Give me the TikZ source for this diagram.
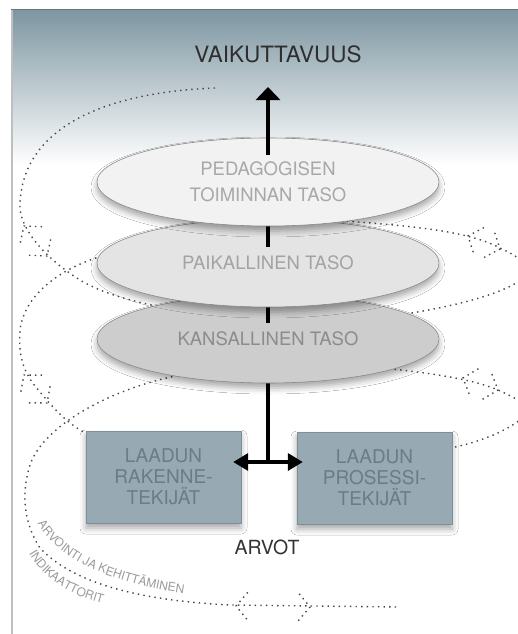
\documentclass[tikz,border=0pt]{standalone}
\usepackage{fontspec}
\setmainfont{TeX Gyre Heros}
\usetikzlibrary{calc,shapes.geometric,arrows.meta,shadows.blur,decorations.text}

\definecolor{slate}{RGB}{125,150,161}
\definecolor{slatemid}{RGB}{186,200,207}
\definecolor{boxfill}{RGB}{151,169,178}
\definecolor{boxline}{RGB}{126,142,151}
\definecolor{boxtext}{RGB}{108,124,134}
\definecolor{dotgray}{RGB}{70,70,70}
\definecolor{curvetext}{RGB}{155,155,155}

% two dotted open tips pointing away from each other
\newcommand{\chevrons}[2]{%
  \draw[spiral] ($#1!18pt!50:#2$) -- #1 -- ($#1!18pt!-50:#2$);
  \draw[spiral] ($#2!18pt!50:#1$) -- #2 -- ($#2!18pt!-50:#1$);}

\begin{document}
\begin{tikzpicture}[x=1pt,y=-1pt]
\tikzstyle{spiral}=[dotgray, line width=1.4pt, dash pattern=on 1.4pt off 4.2pt]
\tikzstyle{level}=[ellipse, draw=black!46, line width=0.6pt, minimum width=342pt, minimum height=88pt,
  inner sep=0pt, align=center, font=\fontsize{18.5}{26}\selectfont,
  blur shadow={shadow xshift=0pt, shadow yshift=-5pt, shadow blur radius=6pt, shadow opacity=35}]
\tikzstyle{factor}=[rectangle, draw=boxline, fill=boxfill, text=boxtext, minimum width=155pt, minimum height=92pt,
  align=center, font=\fontsize{19}{21}\selectfont,
  blur shadow={shadow xshift=0pt, shadow yshift=-5pt, shadow blur radius=6pt, shadow opacity=35}]
\tikzstyle{shaft}=[black, line width=3.5pt]

\useasboundingbox (0,0) rectangle (518,634);
\fill[white] (0,0) rectangle (518,634);
\shade[top color=slate, middle color=slatemid, bottom color=white] (12,10) rectangle (518,165);
\draw[black!25, line width=2pt] (12,10) -- (12,634);
\draw[black!55, line width=1pt] (11,10) -- (518,10);

% spiral, its back parts go under the levels
\begin{scope}
\clip (12,10) rectangle (518,634);
\draw[spiral] (215,88) .. controls (110,92) and (22,125) .. (20,205)
  .. controls (19,225) and (40,255) .. (80,280) .. controls (110,298) and (150,305) .. (200,315);
\draw[spiral] (118,252) .. controls (70,262) and (25,290) .. (20,330)
  .. controls (18,360) and (25,375) .. (40,392) .. controls (55,410) and (70,428) .. (100,440);
\draw[spiral] (200,372) .. controls (130,380) and (45,420) .. (30,465)
  .. controls (22,490) and (22,520) .. (40,548) .. controls (70,580) and (130,600) .. (230,605) -- (398,607);
\draw[spiral] (330,220) .. controls (420,226) and (470,232) .. (500,248)
  .. controls (530,262) and (535,272) .. (518,282) .. controls (495,296) and (450,308) .. (380,318);
\draw[spiral] (350,365) .. controls (420,371) and (470,378) .. (498,390)
  .. controls (525,402) and (535,410) .. (520,420) .. controls (500,435) and (470,445) .. (440,450);
\chevrons{(24,226)}{(47,256)}
\chevrons{(24,375)}{(47,403)}
\chevrons{(468,236)}{(500,249)}
\chevrons{(463,378)}{(498,390)}
\chevrons{(236,606)}{(310,607)}
\end{scope}

\path[decorate, decoration={text along path, text align=center, text color=curvetext,
  text={|\fontsize{12}{12}\selectfont|ARVOINTI JA KEHITTÄMINEN}}]
  (35,520) .. controls (55,555) and (100,582) .. (188,594);
\path[decorate, decoration={text along path, text align=center, text color=curvetext,
  text={|\fontsize{12}{12}\selectfont|INDIKAATTORIT}}]
  (24,543) .. controls (35,572) and (65,597) .. (114,606);

\coordinate (hub) at (268,462);
\coordinate (kmid) at (268,339);
\coordinate (pmid) at (268,263);
\coordinate (dmid) at (268,182);
\coordinate (vtip) at (268,87);

\draw[shaft] (hub) -- (kmid);
\node[level, fill=gray!39, text=black!45] (kans) at (kmid) {KANSALLINEN TASO};
\draw[shaft] ($(kans.center)+(0,-16)$) -- (pmid);
\node[level, fill=gray!21, text=black!36] (paik) at (pmid) {PAIKALLINEN TASO};
\draw[shaft] ($(paik.center)+(0,-16)$) -- (dmid);
\node[level, fill=gray!10, text=black!34] (peda) at (dmid) {PEDAGOGISEN\\TOIMINNAN TASO};
\draw[shaft, -{Triangle[width=24pt,length=13pt]}] ($(peda.center)+(0,-27)$) -- (vtip);

\node[font=\fontsize{22.5}{23}\selectfont, text=black!82] (vaik) at (278,54) {VAIKUTTAVUUS};

\node[factor] (rak) at (163.5,477) {LAADUN\\RAKENNE-\\TEKIJÄT};
\node[factor] (pros) at (374.5,478) {LAADUN\\PROSESSI-\\TEKIJÄT};
\draw[shaft, {Triangle[width=17pt,length=15pt]}-{Triangle[width=17pt,length=15pt]},
  shorten <=-8pt, shorten >=-6pt] (rak.east |- hub) -- (pros.west |- hub);

\node[font=\fontsize{19.5}{20}\selectfont, text=black!80] (arvot) at (267,547) {ARVOT};
\end{tikzpicture}
\end{document}
